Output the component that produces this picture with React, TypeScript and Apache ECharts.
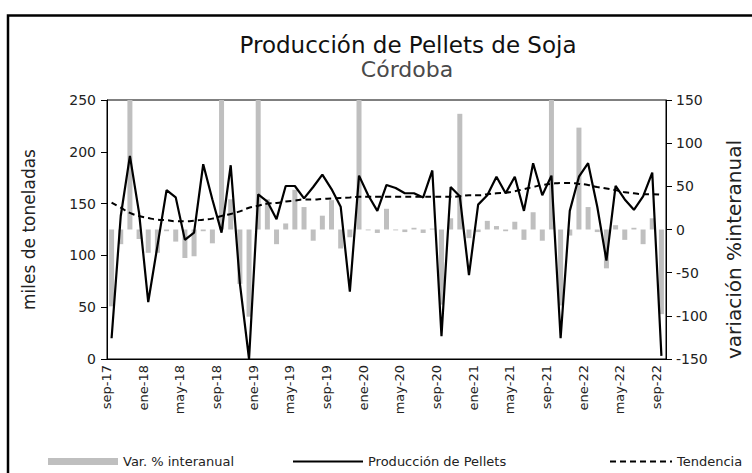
import React, { useEffect, useRef } from "react";
import * as echarts from "echarts";

const categories = [
  "sep-17","oct-17","nov-17","dic-17","ene-18","feb-18","mar-18","abr-18","may-18","jun-18","jul-18","ago-18",
  "sep-18","oct-18","nov-18","dic-18","ene-19","feb-19","mar-19","abr-19","may-19","jun-19","jul-19","ago-19",
  "sep-19","oct-19","nov-19","dic-19","ene-20","feb-20","mar-20","abr-20","may-20","jun-20","jul-20","ago-20",
  "sep-20","oct-20","nov-20","dic-20","ene-21","feb-21","mar-21","abr-21","may-21","jun-21","jul-21","ago-21",
  "sep-21","oct-21","nov-21","dic-21","ene-22","feb-22","mar-22","abr-22","may-22","jun-22","jul-22","ago-22",
  "sep-22",
];

// miles de toneladas
const production = [
  20, 138, 196, 141, 55, 109, 163, 156, 115, 122, 188, 154,
  122, 187, 73, 0, 159, 152, 135, 167, 167, 155, 166, 178,
  164, 147, 65, 177, 158, 143, 168, 165, 160, 160, 156, 182,
  22, 166, 157, 81, 149, 158, 176, 160, 176, 143, 189, 158,
  177, 20, 143, 176, 189, 147, 95, 167, 154, 144, 157, 180,
  3,
];

// variación % interanual
const variation = [
  -89, -17, 160, -11, -27, -27, -2, -14, -33, -31, -2, -16,
  510, 35, -63, -101, 189, 35, -17, 7, 46, 26, -13, 16,
  34, -22, -9, 400, -1, -4, 24, -1, -3, 2, -4, 1,
  -87, 13, 134, -10, -3, 10, 4, -2, 9, -12, 20, -13,
  700, -88, -7, 118, 26, -3, -45, 5, -12, 2, -17, 13,
  -98,
];

// tendencia
const trend = [
  151, 146, 141, 138, 136, 134.5, 134, 133, 133, 133.5, 134.5, 135.5,
  138, 140, 142.5, 146, 148, 150, 150.6, 152, 153, 154, 154, 154.5,
  155, 155.5, 156, 156.5, 156.5, 156.5, 156.5, 156.5, 156.5, 156.5, 156.5, 156.5,
  156.5, 156.5, 157, 158, 158, 159, 160, 160.5, 162, 164, 166, 168,
  169, 170, 170, 169, 168, 166, 164.5, 163, 161, 160, 159, 159,
  158.5,
];

const leftTicks = [0, 50, 100, 150, 200, 250];
const rightTicks = [-150, -100, -50, 0, 50, 100, 150];

const FONT = "'DejaVu Sans', 'Noto Sans', sans-serif";

export default function App() {
  const ref = useRef<HTMLDivElement>(null);
  useEffect(() => {
    if (!ref.current) return;
    const chart = echarts.init(ref.current, undefined, { renderer: "svg" });
    const every4 = (i: number) => i % 4 === 0;
    const legendText = { fontSize: 13, color: "#222", fontFamily: FONT };
    chart.setOption({
      animation: false,
      textStyle: { fontFamily: FONT },
      graphic: [
        {
          type: "rect",
          shape: { x: 8, y: 15.5, width: 800, height: 500 },
          style: { fill: "none", stroke: "#000", lineWidth: 2.5 },
          silent: true,
        },
        {
          type: "text",
          x: 408,
          y: 45,
          style: {
            text: "Producción de Pellets de Soja",
            font: `23px ${FONT}`,
            fill: "#111",
            textAlign: "center",
            textVerticalAlign: "middle",
          },
        },
        {
          type: "text",
          x: 407,
          y: 69,
          style: {
            text: "Córdoba",
            font: `22px ${FONT}`,
            fill: "#4a4a4a",
            textAlign: "center",
            textVerticalAlign: "middle",
          },
        },
      ],
      legend: [
        {
          data: ["Var. % interanual"],
          left: 48,
          top: 455,
          padding: 0,
          icon: "rect",
          itemWidth: 70,
          itemHeight: 7,
          textStyle: legendText,
        },
        {
          data: ["Producción de Pellets"],
          left: 292,
          top: 455,
          padding: 0,
          itemWidth: 70,
          itemHeight: 2,
          itemStyle: { color: "transparent", borderWidth: 0, opacity: 0 },
          textStyle: legendText,
        },
        {
          data: ["Tendencia"],
          left: 609,
          top: 455,
          padding: 0,
          itemWidth: 62,
          itemHeight: 2,
          itemStyle: { color: "transparent", borderWidth: 0, opacity: 0 },
          textStyle: legendText,
        },
      ],
      grid: {
        left: 107,
        right: 72,
        top: 100,
        bottom: 114,
        show: true,
        borderColor: "#000",
        borderWidth: 1,
        backgroundColor: "transparent",
      },
      xAxis: {
        type: "category",
        data: categories,
        boundaryGap: true,
        axisLine: { lineStyle: { color: "#000", width: 1 } },
        axisTick: { interval: every4, length: 6, lineStyle: { color: "#000" } },
        axisLabel: {
          interval: every4,
          rotate: 90,
          fontSize: 13,
          color: "#222",
          margin: 6,
          verticalAlign: "bottom",
          lineHeight: 10,
        },
      },
      yAxis: [
        {
          type: "value",
          min: leftTicks[0],
          max: leftTicks[leftTicks.length - 1],
          interval: 50,
          position: "left",
          name: "miles de toneladas",
          nameLocation: "middle",
          nameRotate: 90,
          nameGap: 70,
          nameTextStyle: { fontSize: 17, color: "#222", fontFamily: FONT },
          axisLine: { show: true, lineStyle: { color: "#000" } },
          axisTick: { show: true, length: 6, lineStyle: { color: "#000" } },
          axisLabel: { fontSize: 14, color: "#222", margin: 11 },
          splitLine: { show: false },
        },
        {
          type: "value",
          min: rightTicks[0],
          max: rightTicks[rightTicks.length - 1],
          interval: 50,
          position: "right",
          name: "variación %interanual",
          nameLocation: "middle",
          nameRotate: 90,
          nameGap: 58,
          nameTextStyle: {
            fontSize: 20,
            color: "#222",
            fontFamily: FONT,
            padding: [0, 40, 0, 0],
          },
          axisLine: { show: true, lineStyle: { color: "#000" } },
          axisTick: { show: true, length: 6, lineStyle: { color: "#000" } },
          axisLabel: { fontSize: 14, color: "#222", margin: 10 },
          splitLine: { show: false },
        },
      ],
      series: [
        {
          name: "Var. % interanual",
          type: "bar",
          yAxisIndex: 1,
          data: variation,
          barWidth: 5,
          clip: true,
          itemStyle: { color: "#BFBFBF" },
          z: 1,
        },
        {
          name: "Tendencia",
          type: "line",
          yAxisIndex: 0,
          data: trend,
          symbol: "none",
          smooth: true,
          color: "#000",
          lineStyle: { color: "#000", width: 2, type: [6, 4] },
          z: 2,
        },
        {
          name: "Producción de Pellets",
          type: "line",
          yAxisIndex: 0,
          data: production,
          symbol: "none",
          color: "#000",
          lineStyle: { color: "#000", width: 2.2 },
          z: 3,
        },
      ],
    });
    return () => chart.dispose();
  }, []);
  return (
    <div
      ref={ref}
      style={{ position: "fixed", left: 0, top: 0, width: 752, height: 473, background: "#fff" }}
    />
  );
}
